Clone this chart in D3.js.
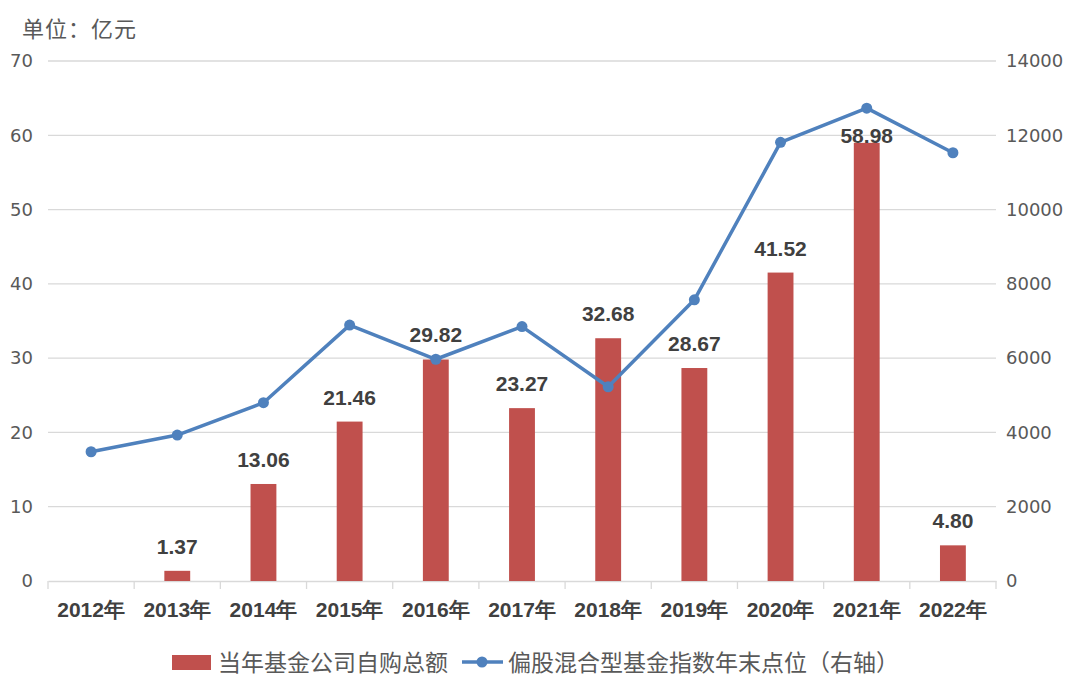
<!DOCTYPE html>
<html><head><meta charset="utf-8">
<script src="https://cdn.jsdelivr.net/npm/d3@7"></script>
<style>body{margin:0;background:#fff}svg{display:block}</style>
</head><body><svg id="c" width="1080" height="697"></svg>
<script>
const years = ["2012年","2013年","2014年","2015年","2016年","2017年","2018年","2019年","2020年","2021年","2022年"];
const purchase = [null,1.37,13.06,21.46,29.82,23.27,32.68,28.67,41.52,58.98,4.80];
const indexPts = [3480,3930,4800,6890,5970,6850,5230,7570,11810,12730,11530];
const leftTicks = [0,10,20,30,40,50,60,70];
const rightTicks = [0,2000,4000,6000,8000,10000,12000,14000];
const unitLabel = "单位：亿元";
const barName = "当年基金公司自购总额";
const lineName = "偏股混合型基金指数年末点位（右轴）";

const svg = d3.select("#c");
const M = {l:48, r:996, t:61, b:581};
const x = d3.scaleBand().domain(years).range([M.l, M.r]).paddingInner(0.7).paddingOuter(0.35);
const xb = d3.scaleBand().domain(years).range([M.l, M.r]);
const yL = d3.scaleLinear().domain([0,70]).range([M.b, M.t]);
const yR = d3.scaleLinear().domain([0,14000]).range([M.b, M.t]);
const cjk = "'Noto Sans CJK SC','Noto Sans',sans-serif";
const num = "'DejaVu Sans',sans-serif";
const bold = "'Liberation Sans',Arial,sans-serif";

// gridlines
svg.append("g").selectAll("line").data(leftTicks.slice(1)).join("line")
  .attr("x1", M.l).attr("x2", M.r).attr("y1", d=>yL(d)).attr("y2", d=>yL(d))
  .attr("stroke", "#D9D9D9").attr("stroke-width", 1.3);

// left axis
const gl = svg.append("g").attr("transform", `translate(${M.l},0)`)
  .call(d3.axisLeft(yL).tickValues(leftTicks).tickSize(0).tickPadding(15));
gl.select(".domain").remove();
gl.selectAll("text").attr("font-family", num).attr("font-size", 18).attr("fill", "#595959");

// right axis
const gr = svg.append("g").attr("transform", `translate(${M.r},0)`)
  .call(d3.axisRight(yR).tickValues(rightTicks).tickFormat(d3.format("d")).tickSize(0).tickPadding(10));
gr.select(".domain").remove();
gr.selectAll("text").attr("font-family", num).attr("font-size", 18).attr("fill", "#595959");

// bottom axis
const gb = svg.append("g").attr("transform", `translate(0,${M.b})`)
  .call(d3.axisBottom(xb).tickSize(0).tickPadding(21));
gb.select(".domain").attr("stroke", "#D9D9D9").attr("stroke-width", 1.3);
gb.selectAll("text").attr("font-family", bold).attr("font-weight", "bold").attr("font-size", 21).attr("fill", "#404040");
// boundary tick marks
const bounds = years.map(d=>xb(d)).concat([xb(years[years.length-1])+xb.bandwidth()]);
svg.append("g").selectAll("line").data(bounds).join("line")
  .attr("x1", d=>d).attr("x2", d=>d).attr("y1", M.b).attr("y2", M.b+8)
  .attr("stroke", "#D9D9D9").attr("stroke-width", 1.3);

// bars
const barData = years.map((y,i)=>({y, v:purchase[i], i})).filter(d=>d.v!=null);
svg.append("g").selectAll("rect").data(barData).join("rect")
  .attr("x", d=>x(d.y)).attr("width", x.bandwidth())
  .attr("y", d=>yL(d.v)).attr("height", d=>yL(0)-yL(d.v))
  .attr("fill", "#C0504D");

// line
const pts = years.map((y,i)=>({y, v:indexPts[i]}));
svg.append("path").datum(pts)
  .attr("d", d3.line().x(d=>xb(d.y)+xb.bandwidth()/2).y(d=>yR(d.v)))
  .attr("fill", "none").attr("stroke", "#4F81BD").attr("stroke-width", 3.5).attr("stroke-linejoin","round");
svg.append("g").selectAll("circle").data(pts).join("circle")
  .attr("cx", d=>xb(d.y)+xb.bandwidth()/2).attr("cy", d=>yR(d.v)).attr("r", 5.5)
  .attr("fill", "#4F81BD");

// bar labels
svg.append("g").selectAll("text").data(barData).join("text")
  .attr("x", d=>x(d.y)+x.bandwidth()/2)
  .attr("y", d=>{
    const top = yL(d.v); let ly = top - 17;
    const lm = yR(indexPts[d.i]);
    if (lm > ly - 25 && lm < ly + 5) ly = top;
    return ly;
  })
  .attr("text-anchor", "middle").attr("font-family", bold).attr("font-weight", "bold")
  .attr("font-size", 21).attr("fill", "#404040")
  .text(d=>d.v.toFixed(2));

// unit label
svg.append("text").attr("x", 22).attr("y", 37).attr("font-family", cjk).attr("font-size", 22)
  .attr("letter-spacing", 1)
  .attr("fill", "#595959").text(unitLabel);

// legend
const lg = svg.append("g");
lg.append("rect").attr("x", 172).attr("y", 655).attr("width", 39).attr("height", 15).attr("fill", "#C0504D");
lg.append("text").attr("x", 218).attr("y", 671).attr("font-family", cjk).attr("font-size", 23)
  .attr("fill", "#595959").text(barName);
lg.append("line").attr("x1", 462).attr("x2", 503).attr("y1", 662).attr("y2", 662)
  .attr("stroke", "#4F81BD").attr("stroke-width", 3.5);
lg.append("circle").attr("cx", 482).attr("cy", 662).attr("r", 5.5).attr("fill", "#4F81BD");
lg.append("text").attr("x", 508).attr("y", 671).attr("font-family", cjk).attr("font-size", 23)
  .attr("fill", "#595959").text(lineName);
</script></body></html>
